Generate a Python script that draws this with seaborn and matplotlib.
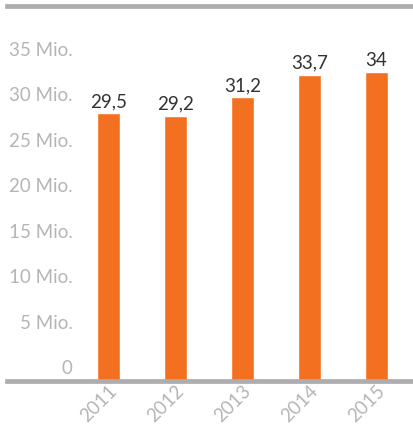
import matplotlib
matplotlib.use("Agg")
import matplotlib.pyplot as plt
import matplotlib.transforms as mtransforms
import seaborn as sns
import pandas as pd

years = ["2011", "2012", "2013", "2014", "2015"]
values = [29.5, 29.2, 31.2, 33.7, 34.0]
value_labels = ["29,5", "29,2", "31,2", "33,7", "34"]
ytick_values = [0, 5, 10, 15, 20, 25, 30, 35]
ytick_labels = ["0", "5 Mio.", "10 Mio.", "15 Mio.", "20 Mio.", "25 Mio.", "30 Mio.", "35 Mio."]

sns.set_theme(style="white")
plt.rcParams["font.family"] = ["Lato", "DejaVu Sans"]

ORANGE = "#F37021"
GRAY_LINE = "#ADADB0"
GRAY_TEXT = "#B5B5B5"
DARK_TEXT = "#333333"

df = pd.DataFrame({"year": years, "value": values})

W, H = 413, 430
fig = plt.figure(figsize=(W / 100, H / 100), dpi=100)
ax = fig.add_axes([7 / W, 49 / H, (W - 7) / W, 375.5 / H])

sns.barplot(data=df, x="year", y="value", color=ORANGE, saturation=1,
            width=0.343, ax=ax, zorder=2)

ax.set_xlim(-1.512, 4.548)
ax.set_ylim(0, 41.3)

for s in ["left", "right"]:
    ax.spines[s].set_visible(False)
for s in ["top", "bottom"]:
    ax.spines[s].set_visible(True)
    ax.spines[s].set_color(GRAY_LINE)
    ax.spines[s].set_linewidth(3.4)
    ax.spines[s].set_zorder(5)

ax.set_xlabel("")
ax.set_ylabel("")

ax.set_yticks(ytick_values)
ax.set_yticklabels(ytick_labels)
ax.tick_params(axis="y", length=0, pad=-47, labelsize=13.5, labelcolor=GRAY_TEXT)
offset = mtransforms.ScaledTranslation(0, 14 / 100, fig.dpi_scale_trans)
for lbl in ax.get_yticklabels():
    lbl.set_horizontalalignment("right")
    lbl.set_transform(lbl.get_transform() + offset)

ax.tick_params(axis="x", length=0, pad=5, labelsize=13.5, labelcolor=GRAY_TEXT)
xoff = mtransforms.ScaledTranslation(6 / 100, 0, fig.dpi_scale_trans)
for lbl in ax.get_xticklabels():
    lbl.set_rotation(45)
    lbl.set_horizontalalignment("right")
    lbl.set_verticalalignment("center")
    lbl.set_rotation_mode("anchor")
    lbl.set_transform(lbl.get_transform() + xoff)

ax.bar_label(ax.containers[0], labels=value_labels, padding=2,
             fontsize=13.5, color=DARK_TEXT)

ax.grid(False)
fig.savefig("out.png", dpi=100)
